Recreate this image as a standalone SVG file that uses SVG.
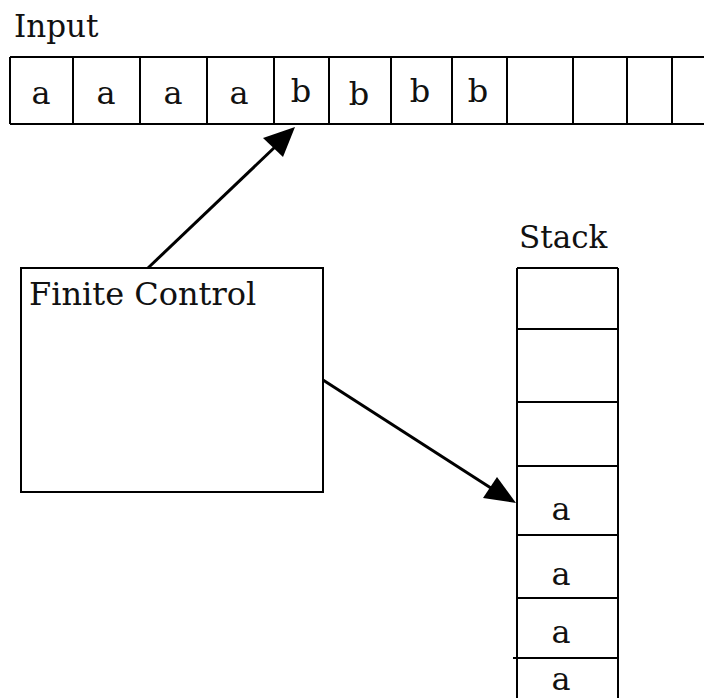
<svg xmlns="http://www.w3.org/2000/svg" width="704" height="698" viewBox="0 0 704 698">
<style>
.box{fill:none;stroke:#000;stroke-width:2}
.t{font-family:"DejaVu Serif","Liberation Serif",serif;font-size:31px;fill:#111}
.big{font-size:32px}
.c{text-anchor:middle}
.conn{stroke:#000;stroke-width:3;fill:none}
.head{fill:#000}
</style>
<rect width="704" height="698" fill="#fff"/>
<g id="input">
<text class="t" x="14" y="37">Input</text>
<path class="box" d="M10,57 H704 M10,124 H704 M10,57 V124 M73,57 V124 M140,57 V124 M207,57 V124 M274,57 V124 M329,57 V124 M391,57 V124 M452,57 V124 M507,57 V124 M573,57 V124 M627,57 V124 M672,57 V124"/>
<text class="t big c" x="41" y="104">a</text>
<text class="t big c" x="106" y="104">a</text>
<text class="t big c" x="173" y="104">a</text>
<text class="t big c" x="239" y="104">a</text>
<text class="t big c" x="301" y="102">b</text>
<text class="t big c" x="359" y="105">b</text>
<text class="t big c" x="420" y="102">b</text>
<text class="t big c" x="478" y="102">b</text>
</g>
<g id="finite-control">
<rect class="box" x="21" y="268" width="302" height="224"/>
<text class="t big" x="29" y="305">Finite Control</text>
</g>
<g id="stack">
<text class="t" x="519" y="248">Stack</text>
<path class="box" d="M517,268 V698 M618,268 V698 M517,268 H618 M517,329 H618 M517,402 H618 M517,466 H618 M517,535 H618 M517,598 H618 M513,658 H618"/>
<text class="t big c" x="561" y="520">a</text>
<text class="t big c" x="561" y="585">a</text>
<text class="t big c" x="561" y="643">a</text>
<text class="t big c" x="561" y="690">a</text>
</g>
<g id="connectors">
<line class="conn" x1="148" y1="268" x2="276" y2="146"/>
<polygon class="head" points="295,127 263,138 283,157"/>
<line class="conn" x1="323" y1="380" x2="494" y2="490"/>
<polygon class="head" points="516,503 483,498 497,477"/>
</g>
</svg>
